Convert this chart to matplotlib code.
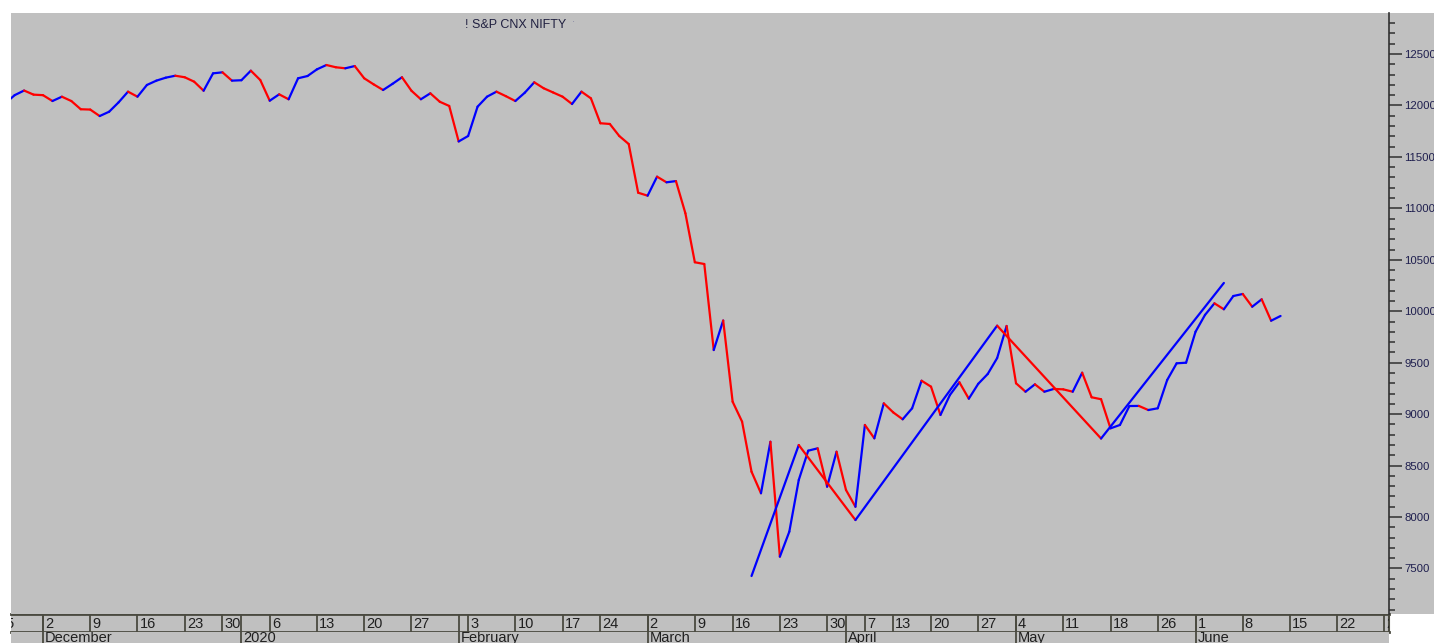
import numpy as np
import pandas as pd
import matplotlib
matplotlib.use("Agg")
import matplotlib.pyplot as plt
from matplotlib.collections import LineCollection
from matplotlib.patches import Rectangle
from matplotlib.ticker import MultipleLocator, FixedLocator, FixedFormatter

plt.rcParams['font.family'] = ['Liberation Sans', 'DejaVu Sans']

# ---------------- data ----------------
dates = [
    "2019-11-26", "2019-11-27", "2019-11-28", "2019-11-29",
    "2019-12-02", "2019-12-03", "2019-12-04", "2019-12-05", "2019-12-06",
    "2019-12-09", "2019-12-10", "2019-12-11", "2019-12-12", "2019-12-13",
    "2019-12-16", "2019-12-17", "2019-12-18", "2019-12-19", "2019-12-20",
    "2019-12-23", "2019-12-24", "2019-12-26", "2019-12-27",
    "2019-12-30", "2019-12-31", "2020-01-01", "2020-01-02", "2020-01-03",
    "2020-01-06", "2020-01-07", "2020-01-08", "2020-01-09", "2020-01-10",
    "2020-01-13", "2020-01-14", "2020-01-15", "2020-01-16", "2020-01-17",
    "2020-01-20", "2020-01-21", "2020-01-22", "2020-01-23", "2020-01-24",
    "2020-01-27", "2020-01-28", "2020-01-29", "2020-01-30", "2020-01-31",
    "2020-02-01",
    "2020-02-03", "2020-02-04", "2020-02-05", "2020-02-06", "2020-02-07",
    "2020-02-10", "2020-02-11", "2020-02-12", "2020-02-13", "2020-02-14",
    "2020-02-17", "2020-02-18", "2020-02-19", "2020-02-20",
    "2020-02-24", "2020-02-25", "2020-02-26", "2020-02-27", "2020-02-28",
    "2020-03-02", "2020-03-03", "2020-03-04", "2020-03-05", "2020-03-06",
    "2020-03-09", "2020-03-11", "2020-03-12", "2020-03-13",
    "2020-03-16", "2020-03-17", "2020-03-18", "2020-03-19", "2020-03-20",
    "2020-03-23", "2020-03-24", "2020-03-25", "2020-03-26", "2020-03-27",
    "2020-03-30", "2020-03-31", "2020-04-01", "2020-04-03",
    "2020-04-07", "2020-04-08", "2020-04-09",
    "2020-04-13", "2020-04-15", "2020-04-16", "2020-04-17",
    "2020-04-20", "2020-04-21", "2020-04-22", "2020-04-23", "2020-04-24",
    "2020-04-27", "2020-04-28", "2020-04-29", "2020-04-30",
    "2020-05-04", "2020-05-05", "2020-05-06", "2020-05-07", "2020-05-08",
    "2020-05-11", "2020-05-12", "2020-05-13", "2020-05-14", "2020-05-15",
    "2020-05-18", "2020-05-19", "2020-05-20", "2020-05-21", "2020-05-22",
    "2020-05-26", "2020-05-27", "2020-05-28", "2020-05-29",
    "2020-06-01", "2020-06-02", "2020-06-03", "2020-06-04", "2020-06-05",
    "2020-06-08", "2020-06-09", "2020-06-10", "2020-06-11", "2020-06-12",
]
closes = [
    12020, 12100, 12145, 12105,
    12100, 12043, 12085, 12043, 11963,
    11960, 11897, 11939, 12030, 12134,
    12085, 12199, 12241, 12270, 12289,
    12274, 12231, 12143, 12312,
    12322, 12241, 12245, 12338, 12247,
    12046, 12108, 12060, 12264, 12286,
    12351, 12393, 12371, 12361, 12383,
    12264, 12205, 12150, 12210, 12274,
    12143, 12060, 12118, 12036, 11995,
    11650,
    11703, 11988, 12085, 12134, 12090,
    12043, 12124, 12225, 12167, 12126,
    12085, 12014, 12134, 12069,
    11827, 11820, 11703, 11625, 11152,
    11123, 11308, 11253, 11265, 10952,
    10476, 10459, 9623, 9910,
    9121, 8927, 8441, 8231, 8732,
    7615, 7858, 8360, 8645, 8668,
    8295, 8635, 8263, 8100,
    8895, 8765, 9105,
    9017, 8950, 9057, 9325,
    9267, 8992, 9186, 9310, 9150,
    9295, 9390, 9545, 9857,
    9300, 9218, 9290, 9218, 9245,
    9241, 9218, 9403, 9164, 9145,
    8862, 8895, 9079, 9080, 9040,
    9057, 9332, 9494, 9500,
    9801, 9964, 10077, 10019, 10148,
    10168, 10044, 10116, 9908, 9954,
]

# trend lines drawn on the chart (anchor dates / levels)
trend_dates = ["2020-03-18", "2020-03-25", "2020-04-03", "2020-04-29", "2020-05-15", "2020-06-04"]
trend_values = [7427, 8700, 7971, 9860, 8763, 10275]

# trading calendar for the time axis
holidays = ["2019-12-25", "2020-02-21", "2020-03-10", "2020-04-02", "2020-04-06",
            "2020-04-10", "2020-04-14", "2020-05-01", "2020-05-25"]
extra_sessions = ["2020-02-01"]
month_labels = {11: "November", 12: "December", 1: "2020", 2: "February", 3: "March",
                4: "April", 5: "May", 6: "June", 7: "July"}
y_major = [7500, 8000, 8500, 9000, 9500, 10000, 10500, 11000, 11500, 12000, 12500]
title = "! S&P CNX NIFTY"

# ---------------- layout ----------------
W, H = 1434, 643
BG = "#C0C0C0"
UP, DN = "#0000FF", "#FF0000"
AX_DARK = "#4a4a40"

cal = pd.bdate_range("2019-11-18", "2020-07-03")
cal = cal.drop(pd.to_datetime(holidays)).union(pd.to_datetime(extra_sessions))
origin = cal.get_loc(pd.Timestamp("2019-12-02"))
pos = {d: i - origin for i, d in enumerate(cal)}

x = np.array([pos[pd.Timestamp(d)] for d in dates], dtype=float)
c = np.array(closes, dtype=float)
tx = np.array([pos[pd.Timestamp(d)] for d in trend_dates], dtype=float)
tv = np.array(trend_values, dtype=float)

px_day = 9.447
x0_px = 43.0
xlim = ((11 - x0_px) / px_day, (1389 - x0_px) / px_day)
ppt = 0.1029
ylim = (12500 - (614 - 54) / ppt, 12500 + (54 - 13) / ppt)

fig = plt.figure(figsize=(W / 100, H / 100), dpi=100, facecolor="white")


def frac(l, t, r, b):
    return [l / W, 1 - b / H, (r - l) / W, (b - t) / H]


# gray panel behind right axis
fig.patches.append(Rectangle((1389 / W, 1 - 614 / H), (W - 1389) / W, 601 / H,
                             transform=fig.transFigure, facecolor=BG, edgecolor="none", zorder=-5))

ax = fig.add_axes(frac(11, 13, 1389, 614))
ax.set_zorder(2)
ax.set_facecolor(BG)
ax.set_xlim(*xlim)
ax.set_ylim(*ylim)
for s in ["left", "top", "bottom"]:
    ax.spines[s].set_visible(False)
ax.spines["right"].set_color("#303030")
ax.spines["right"].set_linewidth(1.2)
ax.set_xticks([])
ax.yaxis.tick_right()
ax.yaxis.set_major_locator(FixedLocator(y_major))
ax.yaxis.set_major_formatter(FixedFormatter([str(v) for v in y_major]))
ax.yaxis.set_minor_locator(MultipleLocator(100))
ax.tick_params(axis="y", which="major", direction="out", length=9, width=1.1,
               color="#303030", labelsize=8.2, labelcolor="#1e1e4e", pad=2)
ax.tick_params(axis="y", which="minor", direction="out", length=4, width=1.1, color="#303030")

# price line coloured by direction
segs = np.stack([np.column_stack([x[:-1], c[:-1]]), np.column_stack([x[1:], c[1:]])], axis=1)
cols = [UP if c[i + 1] >= c[i] else DN for i in range(len(c) - 1)]
ax.add_collection(LineCollection(segs, colors=cols, linewidths=1.6, capstyle="round",
                                 joinstyle="round", zorder=3))

# trend lines
tsegs = np.stack([np.column_stack([tx[:-1], tv[:-1]]), np.column_stack([tx[1:], tv[1:]])], axis=1)
tcols = [UP if tv[i + 1] >= tv[i] else DN for i in range(len(tv) - 1)]
ax.add_collection(LineCollection(tsegs, colors=tcols, linewidths=1.6, capstyle="round", zorder=4))

fig.text(465 / W, 1 - 25 / H, title, ha="left", va="center", fontsize=9, color="#202040", zorder=10)
fig.text(572 / W, 1 - 22 / H, "·", ha="left", va="center", fontsize=7, color="#8080a0", zorder=10)

# ---------------- time axis rows ----------------
wk = pd.Series(cal, index=cal)
week_starts = wk.groupby(cal.to_period("W-SUN")).min().values
month_starts = wk.groupby(cal.to_period("M")).min().values

dax = fig.add_axes(frac(11, 614, 1389, 632))
max_ = fig.add_axes(frac(11, 632, 1389, 643))
for a in (dax, max_):
    a.set_facecolor(BG)
    a.set_xlim(*xlim)
    a.set_ylim(0, 1)
    a.set_xticks([])
    a.set_yticks([])
    for s in a.spines.values():
        s.set_visible(False)

dax.axhline(1, color=AX_DARK, lw=2.0, clip_on=False)
dax.axhline(0, color=AX_DARK, lw=2.0, clip_on=False)
dax.axvline(xlim[1], color=AX_DARK, lw=1.5, clip_on=False)

for d in week_starts:
    p = pos[pd.Timestamp(d)]
    dax.axvline(p, color=AX_DARK, lw=1.3)
    dax.text(p + 0.22, 0.45, str(pd.Timestamp(d).day), ha="left", va="center",
             fontsize=10.5, color="#202020", clip_on=True)
for d in month_starts:
    p = pos[pd.Timestamp(d)]
    if p < xlim[0]:
        continue
    dax.axvline(p, color=AX_DARK, lw=1.3)
    max_.axvline(p, color=AX_DARK, lw=1.3)
    max_.text(p + 0.22, 1.05, month_labels[pd.Timestamp(d).month], ha="left", va="top",
              fontsize=10.5, color="#202020", clip_on=True)

fig.savefig("out.png", dpi=100, facecolor="white")
